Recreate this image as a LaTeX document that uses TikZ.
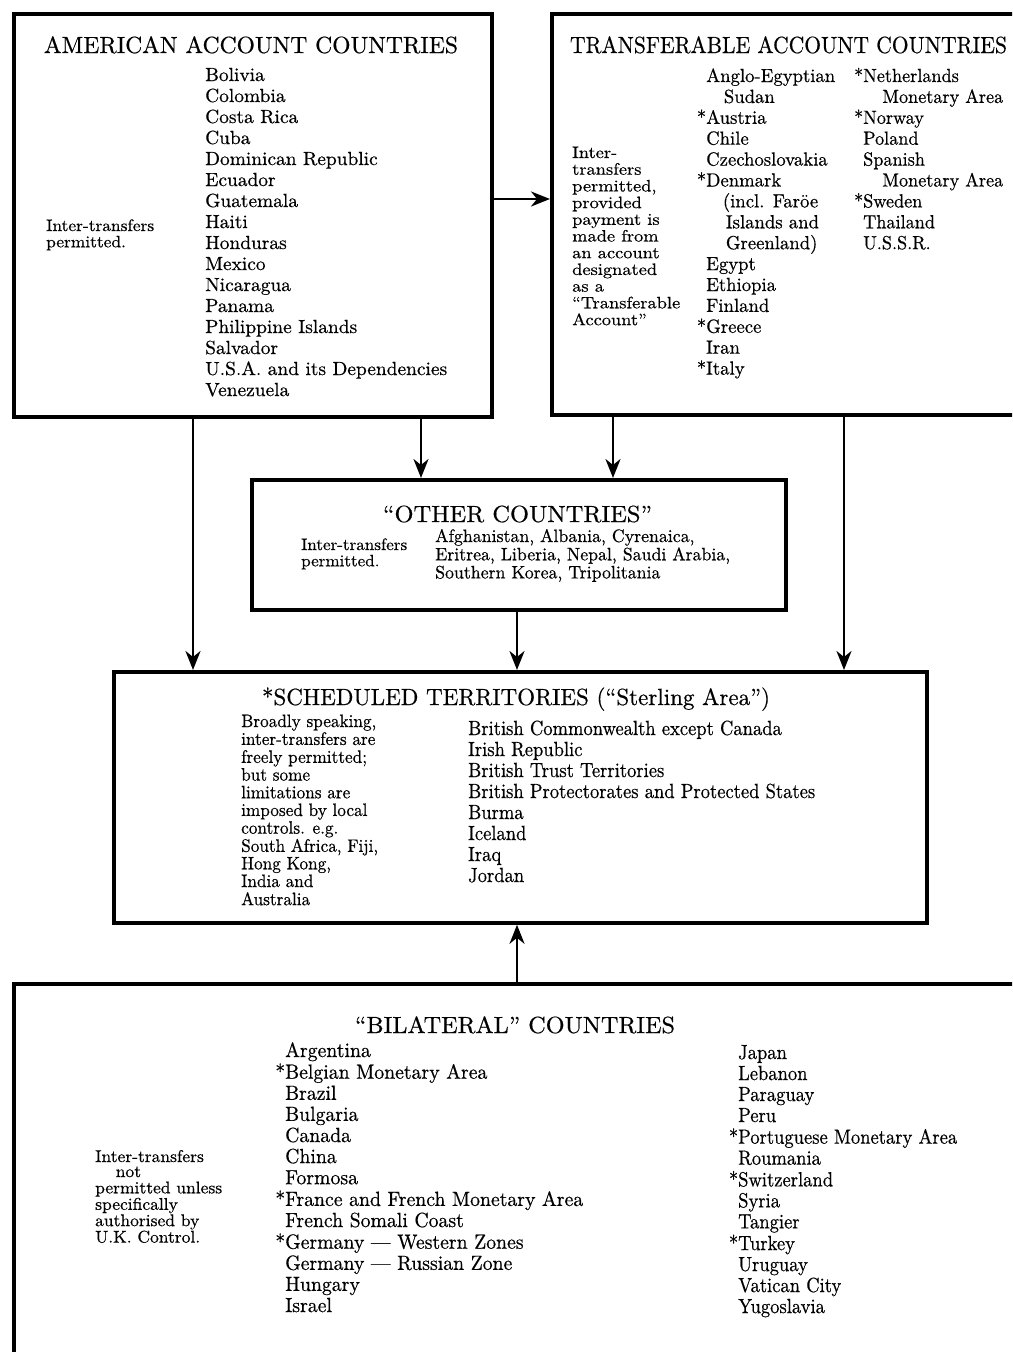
\documentclass[tikz,border=0pt]{standalone}
\usepackage{fontspec}
\setmainfont{lmroman10-regular.otf}[FakeBold=0.5]
\usepackage{graphicx}
\usetikzlibrary{arrows.meta}

% one left-aligned column of lines, first baseline on top
\newcommand\colstack[1]{\begin{tabular}[t]{@{}l@{}}#1\end{tabular}}
% the same column squeezed or stretched to a given width
\newcommand\fitstack[2]{\resizebox{#1}{\height}{\colstack{#2}}}
\newcommand\fitline[2]{\resizebox{#1}{\height}{#2}}
% hanging asterisk before a name
\newcommand\starmark{\llap{*}}

\begin{document}
\begin{tikzpicture}[x=1pt,y=-1pt,
  panel/.style={draw, line width=3.8pt, rectangle, inner sep=0pt, anchor=north west},
  arr/.style={line width=2.6pt, -{Stealth[length=19pt,width=15pt,inset=6pt]}},
  ttl/.style={anchor=base, inner sep=0pt, font=\fontsize{23.4}{26}\selectfont},
  lst/.style 2 args={anchor=base west, inner sep=0pt, font=\fontsize{#1}{#2}\selectfont},
  notetxt/.style 2 args={anchor=base west, inner sep=0pt, font=\fontsize{#1}{#2}\selectfont}]

\useasboundingbox (0,0) rectangle (1012,1352);
\fill[white] (0,0) rectangle (1012,1352);
\clip (0,0) rectangle (1012,1352);

% ---- boxes
\node[panel, minimum width=478pt, minimum height=403pt] (am) at (12,12) {};
\node[panel, minimum width=480pt, minimum height=401pt] (tr) at (550,12) {};
\node[panel, minimum width=534pt, minimum height=130pt] (ot) at (250,478) {};
\node[panel, minimum width=813pt, minimum height=251pt] (sc) at (112,670) {};
\node[panel, minimum width=1020pt, minimum height=400pt] (bi) at (12,982) {};

% ---- arrow positions
\coordinate (h1) at (0,199);
\coordinate (v1) at (193,0);
\coordinate (v2) at (421,0);
\coordinate (v3) at (613,0);
\coordinate (v4) at (844,0);
\coordinate (v5) at (517,0);

\draw[arr] (am.east |- h1) -- (tr.west |- h1);
\draw[arr] (am.south -| v1) -- (sc.north -| v1);
\draw[arr] (am.south -| v2) -- (ot.north -| v2);
\draw[arr] (tr.south -| v3) -- (ot.north -| v3);
\draw[arr] (tr.south -| v4) -- (sc.north -| v4);
\draw[arr] (ot.south -| v5) -- (sc.north -| v5);
\draw[arr] (bi.north -| v5) -- (sc.south -| v5);

% ---- American account countries
\node[ttl] (amT) at (251,53) {\fitline{414pt}{AMERICAN ACCOUNT COUNTRIES}};
\node[notetxt={16.5}{16}] (amN) at (46,231) {\fitstack{108pt}{Inter-transfers\\permitted.}};
\node[lst={19}{21}] (amL) at (205,81) {\fitstack{242pt}{Bolivia\\Colombia\\Costa Rica\\Cuba\\Dominican Republic\\Ecuador\\Guatemala\\Haiti\\Honduras\\Mexico\\Nicaragua\\Panama\\Philippine Islands\\Salvador\\U.S.A. and its Dependencies\\Venezuela}};

% ---- Transferable account countries
\node[ttl] (trT) at (788.5,53) {\fitline{437pt}{TRANSFERABLE ACCOUNT COUNTRIES}};
\node[notetxt={16.5}{16.7}] (trN) at (572,158) {\fitstack{108pt}{Inter-\\transfers\\permitted,\\provided\\payment is\\made from\\an account\\designated\\as a\\``Transferable\\Account''}};
\node[lst={19}{20.9}] (trA) at (706,82) {\fitstack{129pt}{Anglo-Egyptian\\\hspace*{18pt}Sudan\\\starmark Austria\\Chile\\Czechoslovakia\\\starmark Denmark\\\hspace*{17pt}(incl. Faröe\\\hspace*{20pt}Islands and\\\hspace*{20pt}Greenland)\\Egypt\\Ethiopia\\Finland\\\starmark Greece\\Iran\\\starmark Italy}};
\node[lst={19}{20.9}] (trB) at (863,82) {\fitstack{140pt}{\starmark Netherlands\\\hspace*{20pt}Monetary Area\\\starmark Norway\\Poland\\Spanish\\\hspace*{20pt}Monetary Area\\\starmark Sweden\\Thailand\\U.S.S.R.}};

% ---- Other countries
\node[ttl] (otT) at (517.5,522) {\fitline{269pt}{``OTHER COUNTRIES''}};
\node[notetxt={16.5}{16}] (otN) at (301,550) {\fitstack{106pt}{Inter-transfers\\permitted.}};
\node[lst={18}{18}] (otL) at (435,542) {\fitstack{295pt}{Afghanistan, Albania, Cyrenaica,\\Eritrea, Liberia, Nepal, Saudi Arabia,\\Southern Korea, Tripolitania}};

% ---- Scheduled territories
\node[ttl] (scT) at (516,705) {\fitline{508pt}{*SCHEDULED TERRITORIES (``Sterling Area'')}};
\node[notetxt={18}{17.4}] (scN) at (241,727) {\fitstack{137pt}{Broadly speaking,\\inter-transfers are\\freely permitted;\\but some\\limitations are\\imposed by local\\controls. e.g.\\South Africa, Fiji,\\Hong Kong,\\India and\\Australia}};
\node[lst={20.5}{21}] (scL) at (468,735) {\fitstack{347pt}{British Commonwealth except Canada\\Irish Republic\\British Trust Territories\\British Protectorates and Protected States\\Burma\\Iceland\\Iraq\\Jordan}};

% ---- Bilateral countries
\node[ttl] (biT) at (515,1033) {\fitline{320pt}{``BILATERAL'' COUNTRIES}};
\node[notetxt={17}{15}] (biN) at (95,1162) {\fitstack{127pt}{Inter-transfers\\\hspace*{20pt}not\\permitted unless\\specifically\\authorised by\\U.K. Control.}};
\node[lst={20.5}{21.1}] (biA) at (285,1057) {\fitstack{298pt}{Argentina\\\starmark Belgian Monetary Area\\Brazil\\Bulgaria\\Canada\\China\\Formosa\\\starmark France and French Monetary Area\\French Somali Coast\\\starmark Germany — Western Zones\\Germany — Russian Zone\\Hungary\\Israel}};
\node[lst={20.5}{21}] (biB) at (738,1059) {\fitstack{219pt}{Japan\\Lebanon\\Paraguay\\Peru\\\starmark Portuguese Monetary Area\\Roumania\\\starmark Switzerland\\Syria\\Tangier\\\starmark Turkey\\Uruguay\\Vatican City\\Yugoslavia}};

\end{tikzpicture}
\end{document}
